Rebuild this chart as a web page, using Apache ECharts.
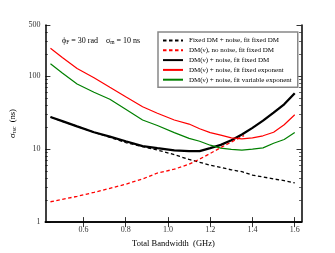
<!DOCTYPE html>
<html><head><meta charset="utf-8">
<script src="https://cdn.jsdelivr.net/npm/echarts@6/dist/echarts.min.js"></script>
<style>html,body{margin:0;padding:0;background:#fff}#c{width:335px;height:253px}</style>
</head><body><div id="c"></div>
<script>
const bandwidth = [0.444, 0.5, 0.57, 0.65, 0.725, 0.8, 0.88, 0.95, 1.03, 1.1, 1.15, 1.2, 1.25, 1.3, 1.35, 1.4, 1.45, 1.5, 1.55, 1.6];
const fixedDmNoise   = [27.5, 24, 20.5, 17, 14.5, 12.3, 10.8, 9.7, 8.4, 7.2, 6.6, 6.0, 5.6, 5.2, 4.9, 4.4, 4.15, 3.9, 3.7, 3.45];
const dmNuFitFixedDm = [27.5, 24.2, 20.5, 17, 14.8, 12.8, 11.0, 10.3, 9.6, 9.4, 9.4, 10.3, 11.4, 13.2, 15.8, 19.5, 24.5, 31.5, 41, 58];
const dmNuFixedExp   = [240, 180, 127, 95, 70, 52, 38, 31, 25, 22, 19, 16.8, 15.5, 14.2, 13.8, 14.2, 15.2, 17, 21.5, 29.5];
const dmNuVarExp     = [147, 110, 78, 60, 48, 35, 25, 21, 16.8, 14, 12.8, 11.3, 10.3, 9.9, 9.7, 10, 10.4, 12, 13.5, 16.8];
const bandwidthNoNoise = [0.444, 0.5, 0.57, 0.65, 0.725, 0.8, 0.88, 0.95, 1.03, 1.1, 1.15, 1.2, 1.25, 1.3, 1.36];
const dmNuNoNoise    = [1.9, 2.05, 2.25, 2.55, 2.9, 3.3, 3.9, 4.7, 5.3, 6.2, 7.3, 8.7, 10.5, 12.5, 15.3];

const xTicks = [0.6, 0.8, 1.0, 1.2, 1.4, 1.6];
const yMinorTicks = [2,3,4,5,6,7,8,9,20,30,40,50,60,70,80,90,200,300,400];
const seriesNames = [
  'Fixed DM + noise, fit fixed DM',
  'DM(ν), no noise, fit fixed DM',
  'DM(ν) + noise, fit fixed DM',
  'DM(ν) + noise, fit fixed exponent',
  'DM(ν) + noise, fit variable exponent'
];

const FONT = 'Liberation Serif';
const pairs = (xs, ys) => xs.map((x, i) => [x, ys[i]]);
const yMin = 1, yMax = 500;
const logMinor = yMinorTicks.map(v => Math.log10(v));

const grid = {left: 41.5, right: 33.5, top: 25, bottom: 26.5};
const axisLine = {show: true, lineStyle: {color: '#000', width: 1.5}};
const majorTick = {show: true, inside: true, length: 5, lineStyle: {color: '#000', width: 0.8}};
const minorTickCfg = {show: true, inside: true, length: 2.5, customValues: logMinor, lineStyle: {color: '#000', width: 0.6}};

const chart = echarts.init(document.getElementById('c'), null, {renderer: 'canvas'});
chart.setOption({
  animation: false,
  backgroundColor: '#fff',
  title: {
    text: 'ϕ{s|F} = 30 rad    σ{s|m} = 10 ns',
    left: 57, top: 31,
    textStyle: {fontFamily: FONT, fontSize: 8, fontWeight: 'normal', color: '#000',
      rich: {s: {fontFamily: FONT, fontSize: 5.5, verticalAlign: 'bottom', padding: [4, 0, 0, 0]}}}
  },
  legend: {
    orient: 'vertical', left: 158, top: 32,
    padding: [5, 6, 4, 4], itemGap: 2.8, itemWidth: 20, itemHeight: 6.5,
    borderColor: '#888', borderWidth: 1.5, backgroundColor: '#fff',
    itemStyle: {opacity: 0},
    textStyle: {fontFamily: FONT, fontSize: 7, color: '#000', padding: [0, 0, 0, 1]},
    data: seriesNames
  },
  grid: grid,
  xAxis: [
    {type: 'value', position: 'bottom', min: 0.42, max: 1.632,
      name: 'Total Bandwidth  (GHz)', nameLocation: 'middle', nameGap: 16,
      nameTextStyle: {fontFamily: FONT, fontSize: 8.5, color: '#000'},
      axisLine: axisLine, splitLine: {show: false},
      axisTick: Object.assign({customValues: xTicks}, majorTick),
      axisLabel: {customValues: xTicks, fontFamily: FONT, fontSize: 8, color: '#333', margin: 4,
        formatter: v => v.toFixed(1)}},
    {type: 'value', position: 'top', min: 0.42, max: 1.632,
      axisLine: axisLine, splitLine: {show: false},
      axisTick: Object.assign({customValues: xTicks}, majorTick),
      axisLabel: {show: false}}
  ],
  yAxis: [
    {type: 'log', logBase: 10, position: 'left', min: yMin, max: yMax,
      name: 'σ{s|τsc}  (ns)', nameLocation: 'middle', nameGap: 23, nameRotate: 90,
      nameTextStyle: {fontFamily: FONT, fontSize: 8.5, color: '#000',
        rich: {s: {fontFamily: FONT, fontSize: 5.5, verticalAlign: 'bottom', padding: [4, 0, 0, 0]}}},
      axisLine: axisLine, splitLine: {show: false}, minorTick: {show: false},
      axisTick: majorTick,
      axisLabel: {fontFamily: FONT, fontSize: 8, color: '#333', margin: 5, showMaxLabel: true}},
    {type: 'value', position: 'left', min: 0, max: Math.log10(yMax),
      axisLine: {show: false}, splitLine: {show: false},
      axisTick: minorTickCfg, axisLabel: {show: false}},
    {type: 'log', logBase: 10, position: 'right', min: yMin, max: yMax,
      axisLine: axisLine, splitLine: {show: false},
      axisTick: majorTick, axisLabel: {show: false}},
    {type: 'value', position: 'right', min: 0, max: Math.log10(yMax),
      axisLine: {show: false}, splitLine: {show: false},
      axisTick: minorTickCfg, axisLabel: {show: false}}
  ],
  series: [
    {name: seriesNames[0], type: 'line', symbol: 'none', data: pairs(bandwidth, fixedDmNoise),
      lineStyle: {color: '#000', width: 1.3, type: [3.5, 2.5]}, itemStyle: {color: '#000'}, z: 3},
    {name: seriesNames[1], type: 'line', symbol: 'none', data: pairs(bandwidthNoNoise, dmNuNoNoise),
      lineStyle: {color: '#ff0000', width: 1.3, type: [3.5, 2.5]}, itemStyle: {color: '#ff0000'}, z: 3},
    {name: seriesNames[2], type: 'line', symbol: 'none', data: pairs(bandwidth, dmNuFitFixedDm),
      lineStyle: {color: '#000', width: 2.3}, itemStyle: {color: '#000'}, z: 2},
    {name: seriesNames[3], type: 'line', symbol: 'none', data: pairs(bandwidth, dmNuFixedExp),
      lineStyle: {color: '#ff0000', width: 1.2}, itemStyle: {color: '#ff0000'}, z: 2},
    {name: seriesNames[4], type: 'line', symbol: 'none', data: pairs(bandwidth, dmNuVarExp),
      lineStyle: {color: '#008000', width: 1.2}, itemStyle: {color: '#008000'}, z: 2}
  ]
});
</script></body></html>
